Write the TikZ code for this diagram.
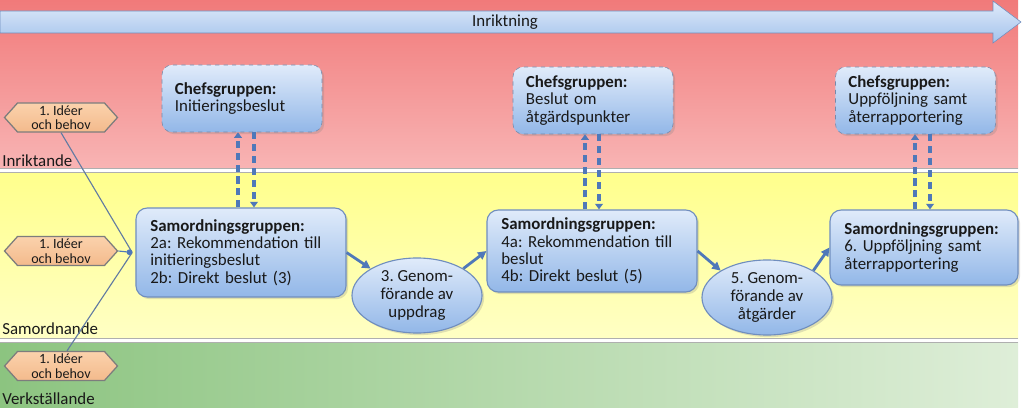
\documentclass[tikz,border=0pt]{standalone}
\usepackage{fontspec}
\setmainfont{Carlito}
\frenchspacing
\usetikzlibrary{arrows.meta,positioning,shapes.geometric,shapes.symbols,shadows}
\definecolor{lanered}{RGB}{241,122,122}
\definecolor{lanepink}{RGB}{248,180,180}
\definecolor{laneyellow}{RGB}{255,255,140}
\definecolor{laneyellowlt}{RGB}{255,255,196}
\definecolor{lanegreen}{RGB}{140,196,128}
\definecolor{lanegreenlt}{RGB}{222,238,216}
\definecolor{laneedge}{RGB}{175,175,175}
\definecolor{boxtop}{RGB}{224,235,250}
\definecolor{boxbottom}{RGB}{146,183,232}
\definecolor{boxedge}{RGB}{112,142,190}
\definecolor{flowblue}{RGB}{79,120,185}
\definecolor{ideatop}{RGB}{251,210,172}
\definecolor{ideabottom}{RGB}{243,186,140}
\definecolor{ideaedge}{RGB}{125,125,125}
\definecolor{inktext}{RGB}{25,25,25}
\tikzset{
  chefbox/.style={
    rounded corners=7pt,
    draw=boxedge!70!gray,
    dashed,
    top color=boxtop,
    bottom color=boxbottom,
    drop shadow={opacity=0.25,shadow xshift=1.5pt,shadow yshift=-1.5pt},
    inner xsep=0.325cm,
    text width=3.35cm,
    minimum height=1.675cm,
    align=left,
    text=inktext,
    font=\fontsize{12}{12.4}\selectfont
  },
  samordbox/.style={
    rounded corners=8pt,
    draw=boxedge,
    thick,
    top color=boxtop,
    bottom color=boxbottom,
    drop shadow={opacity=0.25,shadow xshift=1.5pt,shadow yshift=-1.5pt},
    inner xsep=0.36cm,
    align=left,
    text=inktext,
    font=\fontsize{12}{12.4}\selectfont
  },
  stepellipse/.style={
    ellipse,
    draw=boxedge,
    thick,
    top color=boxtop,
    bottom color=boxbottom,
    drop shadow={opacity=0.25,shadow xshift=1.5pt,shadow yshift=-1.5pt},
    minimum width=3.25cm,
    minimum height=1.875cm,
    inner sep=0pt,
    align=center,
    text=inktext,
    font=\fontsize{12}{12.8}\selectfont
  },
  ideahex/.style={
    signal,
    signal to=west and east,
    signal pointer angle=96,
    draw=ideaedge,
    line width=0.9pt,
    top color=ideatop,
    bottom color=ideabottom,
    minimum width=2.825cm,
    minimum height=0.725cm,
    inner sep=1pt,
    align=center,
    text=inktext,
    font=\fontsize{10}{10.3}\selectfont
  },
  lanelabel/.style={
    anchor=base west,
    inner sep=0pt,
    text=inktext,
    font=\fontsize{12}{12}\selectfont
  },
  dasharrow/.style={
    -{Triangle[length=4pt,width=5.5pt]},
    draw=flowblue,
    line width=2.2pt,
    dash pattern=on 5pt off 3.5pt
  },
  flowarrow/.style={
    -{Triangle[length=6pt,width=6pt]},
    draw=flowblue,
    line width=2pt
  },
  idealine/.style={
    draw=flowblue!60!gray,
    line width=0.8pt
  }
}
\begin{document}
\begin{tikzpicture}[x=0.025cm,y=-0.025cm]
\useasboundingbox[fill=white] (0,0) rectangle (1023,407);
% lanes
\fill[top color=lanered, bottom color=lanepink] (0,0) rectangle (1018,168);
\draw[laneedge] (0,168) -- (1018,168);
\fill[top color=laneyellow, bottom color=laneyellowlt] (0,172) rectangle (1018,338);
\draw[laneedge] (0,172) -- (1018,172) (0,338) -- (1018,338);
\fill[left color=lanegreen, right color=lanegreenlt] (0,342) rectangle (1018,407);
\draw[laneedge] (0,342) -- (1018,342);
\node[lanelabel] (inriktande) at (2,166) {Inriktande};
\node[lanelabel] (samordnande) at (2,334) {Samordnande};
\node[lanelabel] (verkstallande) at (2,404) {Verkställande};

% direction arrow
\draw[draw=boxedge, top color=boxtop, bottom color=boxbottom!85!white]
  (0,11) -- (993,11) -- (993,1) -- (1021,22) -- (993,43) -- (993,33) -- (0,33) -- cycle;
\node[text=inktext, font=\fontsize{12}{12}\selectfont] (inriktning) at (505,22) {Inriktning};

% chefsgruppen
\node[chefbox] (chef1) at (242,98.5) {\textbf{Chefsgruppen:}\\Initieringsbeslut};
\node[chefbox] (chef2) at (593,100.5) {\textbf{Chefsgruppen:}\\Beslut om\\åtgärdspunkter};
\node[chefbox] (chef3) at (915.5,100.5) {\textbf{Chefsgruppen:}\\Uppföljning samt\\återrapportering};

% samordningsgruppen
\node[samordbox, text width=4.53cm, minimum height=2.225cm] (samord1) at (241,252.5)
  {\textbf{Samordningsgruppen:}\\2a: Rekommendation till\\initieringsbeslut\\2b: Direkt beslut (3)};
\node[samordbox, text width=4.53cm, minimum height=2.05cm] (samord2) at (592,251)
  {\textbf{Samordningsgruppen:}\\4a: Rekommendation till\\beslut\\4b: Direkt beslut (5)};
\node[samordbox, text width=3.98cm, minimum height=1.875cm] (samord3) at (924,247.5)
  {\textbf{Samordningsgruppen:}\\6. Uppföljning samt\\återrapportering};

% genomforande
\node[stepellipse] (ell1) at (417,295.5) {3. Genom-\\förande av\\uppdrag};
\node[stepellipse] (ell2) at (767,297.5) {5. Genom-\\förande av\\åtgärder};

% ideas
\node[ideahex] (idea1) at (61,117.5) {1. Idéer\\och behov};
\node[ideahex] (idea2) at (61,251) {1. Idéer\\och behov};
\node[ideahex] (idea3) at (61,366) {1. Idéer\\och behov};
\coordinate (merge) at ([xshift=-0.08cm]samord1.west);
\draw[idealine] (idea1.south) -- (merge);
\draw[idealine] ([xshift=0.15cm]idea3.north) -- (merge);
\draw[idealine, -{Circle[length=4pt]}, flowblue] (idea2.east) -- (merge);

% dashed links
\foreach \c/\s/\xu/\xd in {chef1/samord1/238/254, chef2/samord2/585/599, chef3/samord3/915/930} {
  \draw[dasharrow] (\xu,0 |- \s.north) -- (\xu,0 |- \c.south);
  \draw[dasharrow] (\xd,0 |- \c.south) -- (\xd,0 |- \s.north);
}

% flow
\draw[flowarrow] (samord1.east) -- (ell1.north west);
\draw[flowarrow] (ell1.north east) -- (samord2.west);
\draw[flowarrow] (samord2.east) -- (ell2.north west);
\draw[flowarrow] (ell2.north east) -- (samord3.west);
\end{tikzpicture}
\end{document}
